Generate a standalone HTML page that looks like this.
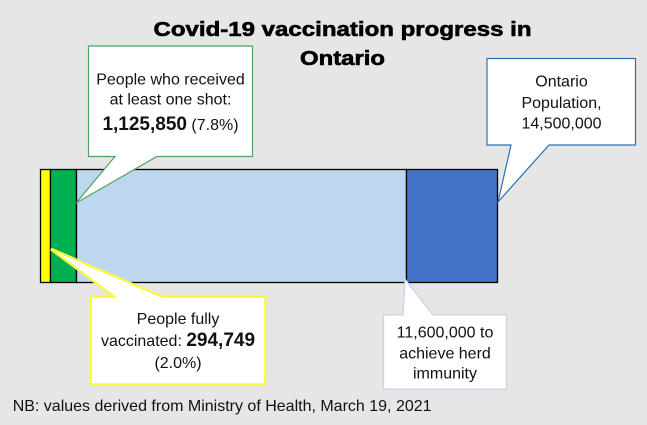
<!DOCTYPE html>
<html>
<head>
<meta charset="utf-8">
<style>
  html, body { margin: 0; padding: 0; background: #e7e6e6; }
  body { width: 647px; height: 425px; overflow: hidden; }
  svg { display: block; }
  text { font-family: "Liberation Sans", Arial, sans-serif; fill: #111; }
</style>
</head>
<body>
<svg width="647" height="425" viewBox="0 0 647 425" xmlns="http://www.w3.org/2000/svg">
  <rect x="0" y="0" width="647" height="425" fill="#e7e6e6"/>

  <!-- Title -->
  <text x="342.5" y="36" text-anchor="middle" font-size="20" font-weight="bold" textLength="378" lengthAdjust="spacingAndGlyphs" style="fill:#000;stroke:#000;stroke-width:0.6px;">Covid-19 vaccination progress in</text>
  <text x="342.5" y="65" text-anchor="middle" font-size="20" font-weight="bold" textLength="85" lengthAdjust="spacingAndGlyphs" style="fill:#000;stroke:#000;stroke-width:0.6px;">Ontario</text>

  <!-- Bar -->
  <rect x="40.5" y="169.5" width="10" height="113" fill="#ffff00" stroke="#000" stroke-width="1.3"/>
  <rect x="50.5" y="169.5" width="26" height="113" fill="#00b050" stroke="#000" stroke-width="1.3"/>
  <rect x="76.5" y="169.5" width="330" height="113" fill="#bdd7ee" stroke="#000" stroke-width="1.3"/>
  <rect x="406.5" y="169.5" width="91" height="113" fill="#4472c4" stroke="#000" stroke-width="1.3"/>

  <!-- Green callout -->
  <polygon points="88.5,46 252.5,46 252.5,156.5 157,156.5 76,203 115,156.5 88.5,156.5" fill="#ffffff" stroke="#4fa262" stroke-width="1.2"/>
  <text x="170.5" y="84.3" text-anchor="middle" font-size="16">People who received</text>
  <text x="170.5" y="104.3" text-anchor="middle" font-size="16">at least one shot:</text>
  <text x="170.5" y="130" text-anchor="middle" font-size="16"><tspan font-size="19" font-weight="bold">1,125,850</tspan> (7.8%)</text>

  <!-- Blue callout -->
  <polygon points="487,58.5 635.5,58.5 635.5,145 549,145 498,202 511,145 487,145" fill="#ffffff" stroke="#2f6eb5" stroke-width="1.2"/>
  <text x="561.5" y="86.7" text-anchor="middle" font-size="16">Ontario</text>
  <text x="561.5" y="108" text-anchor="middle" font-size="16">Population,</text>
  <text x="561.5" y="128.5" text-anchor="middle" font-size="16">14,500,000</text>

  <!-- Yellow callout -->
  <polygon points="91,297 115,297 51,249 162,297 265,297 265,384 91,384" fill="#ffffff" stroke="#f2f28a" stroke-width="3"/>
  <polygon points="91,297 115,297 51,249 162,297 265,297 265,384 91,384" fill="#ffffff" stroke="#ffff00" stroke-width="1.3"/>
  <text x="178" y="324" text-anchor="middle" font-size="16">People fully</text>
  <text x="178" y="346" text-anchor="middle" font-size="16">vaccinated: <tspan font-size="19" font-weight="bold">294,749</tspan></text>
  <text x="178" y="368" text-anchor="middle" font-size="16">(2.0%)</text>

  <!-- Light callout -->
  <polygon points="383.5,315 403,315 405,279 433,315 506.5,315 506.5,389 383.5,389" fill="#ffffff" stroke="#c5d5e6" stroke-width="1.3"/>
  <text x="445" y="337.3" text-anchor="middle" font-size="16">11,600,000 to</text>
  <text x="445" y="358.3" text-anchor="middle" font-size="16">achieve herd</text>
  <text x="445" y="378.3" text-anchor="middle" font-size="16">immunity</text>

  <!-- Footer -->
  <text x="12.7" y="411" font-size="16">NB: values derived from Ministry of Health, March 19, 2021</text>
</svg>
</body>
</html>
